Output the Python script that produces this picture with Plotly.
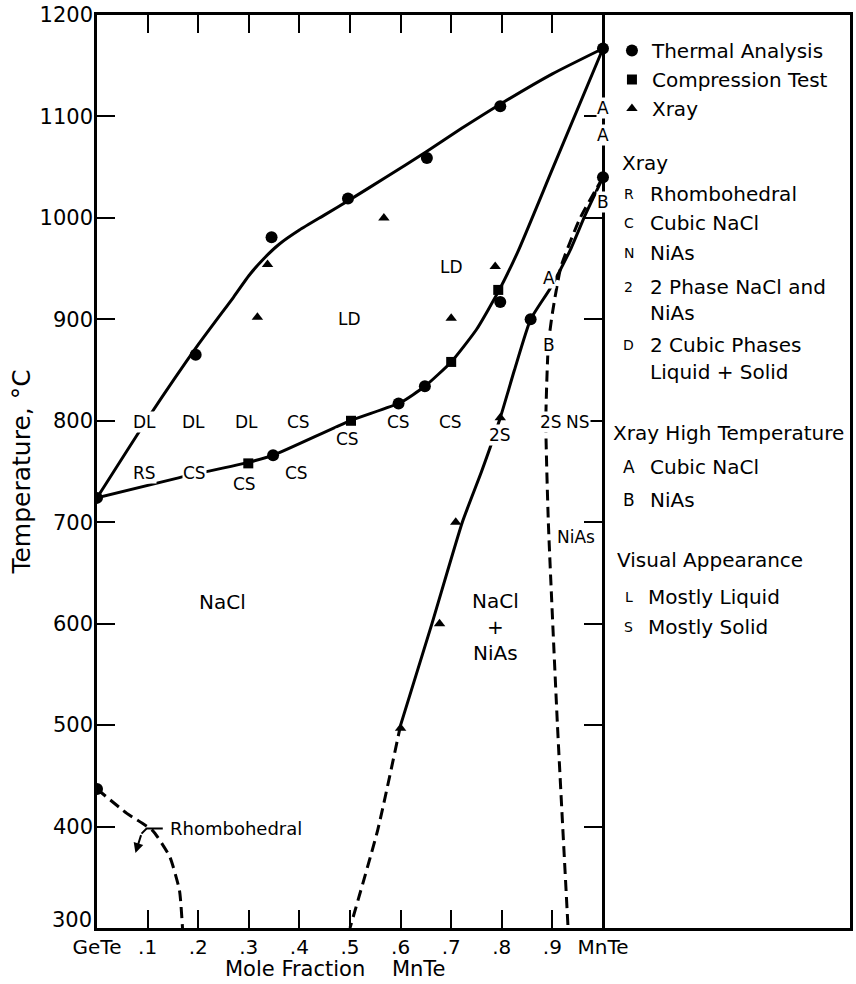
import plotly.graph_objects as go

# ---- measured points: mole fraction MnTe vs temperature (°C) ----
thermal_x = [0.0, 0.195, 0.345, 0.496, 0.652, 0.797, 1.0, 0.0, 0.348, 0.596, 0.648, 0.797, 0.857, 1.0]
thermal_t = [724, 865, 981, 1019, 1059, 1110, 1167, 437, 766, 817, 834, 917, 900, 1040]

compress_x = [0.299, 0.502, 0.700, 0.793]
compress_t = [758, 800, 858, 929]

xray_x = [0.317, 0.337, 0.567, 0.700, 0.787, 0.797, 0.709, 0.677, 0.600]
xray_t = [902, 954, 1000, 901, 952, 803, 700, 600, 497]

# ---- phase boundaries ----
liquidus_x = [0.0, 0.1, 0.2, 0.27, 0.3, 0.33, 0.36, 0.4, 0.45, 0.5, 0.571, 0.65, 0.72, 0.8, 0.9, 1.0]
liquidus_t = [724, 802, 875, 922, 943, 960, 974, 988, 1003, 1018, 1040, 1065, 1088, 1113, 1142, 1167]

solidus_x = [0.0, 0.163, 0.299, 0.348, 0.5, 0.6, 0.648, 0.7, 0.75, 0.795, 0.833, 0.9, 1.0]
solidus_t = [724, 744, 759, 766, 800, 818, 834, 858, 890, 929, 968, 1048, 1167]

nacl_solvus_x = [1.0, 0.965, 0.935, 0.895, 0.857, 0.825, 0.797, 0.76, 0.722, 0.662, 0.6]
nacl_solvus_t = [1040, 1003, 968, 930, 900, 850, 803, 750, 700, 600, 500]

nacl_solvus_low_x = [0.6, 0.555, 0.5]
nacl_solvus_low_t = [500, 397, 300]

nias_solvus_x = [1.0, 0.955, 0.917, 0.90, 0.892, 0.887, 0.892, 0.91, 0.931]
nias_solvus_t = [1040, 1000, 952, 906, 875, 800, 700, 500, 300]

rhombo_x = [0.0, 0.059, 0.11, 0.144, 0.163, 0.169]
rhombo_t = [437, 413, 396, 370, 337, 300]

# ---- axis ticks ----
x_ticks = [0, 0.1, 0.2, 0.3, 0.4, 0.5, 0.6, 0.7, 0.8, 0.9, 1.0]
x_labels = ["GeTe", ".1", ".2", ".3", ".4", ".5", ".6", ".7", ".8", ".9", "MnTe"]
t_ticks = [300, 400, 500, 600, 700, 800, 900, 1000, 1100, 1200]
t_labels = ["", "400", "500", "600", "700", "800", "900", "1000", "1100", "1200"]
t_inner_ticks = [400, 500, 600, 700, 800, 900, 1000, 1100]

# ---- X-ray / visual observation codes written on the diagram ----
obs_codes = [
    ("DL", 0.093, 799), ("DL", 0.19, 799), ("DL", 0.295, 799), ("CS", 0.398, 799),
    ("RS", 0.094, 749), ("CS", 0.193, 749), ("CS", 0.291, 738), ("CS", 0.394, 749),
    ("CS", 0.496, 782), ("CS", 0.596, 799), ("CS", 0.699, 799),
    ("2S", 0.797, 786), ("2S", 0.898, 799), ("NS", 0.951, 799),
    ("LD", 0.5, 900), ("LD", 0.70, 952),
    ("A", 1.0, 1108), ("A", 1.0, 1082), ("B", 1.0, 1016),
    ("A", 0.894, 941), ("B", 0.894, 875),
]

region_labels = [
    ("NaCl", 0.248, 621, 20),
    ("NaCl<br>+<br>NiAs", 0.787, 597, 20),
    ("NiAs", 0.947, 685, 17),
]

X_MAX = 756 / 508  # extra room right of MnTe for the key

DASH = "11px,6px"
fig = go.Figure()


def boundary(xs, ts, dash=None, smooth=0.5):
    fig.add_trace(go.Scatter(
        x=xs, y=ts, mode="lines", showlegend=False, hoverinfo="skip",
        line=dict(color="black", width=3, dash=dash,
                  shape="spline" if smooth else "linear", smoothing=smooth or 1),
    ))


boundary(liquidus_x, liquidus_t)
boundary(solidus_x, solidus_t)
boundary(nacl_solvus_x, nacl_solvus_t)
boundary(nacl_solvus_low_x, nacl_solvus_low_t, dash=DASH)
boundary(nias_solvus_x, nias_solvus_t, dash=DASH)
boundary(rhombo_x, rhombo_t, dash=DASH)

fig.add_trace(go.Scatter(x=thermal_x, y=thermal_t, mode="markers", name="Thermal Analysis",
                         marker=dict(symbol="circle", size=12, color="black")))
fig.add_trace(go.Scatter(x=compress_x, y=compress_t, mode="markers", name="Compression Test",
                         marker=dict(symbol="square", size=10, color="black")))
fig.add_trace(go.Scatter(x=xray_x, y=xray_t, mode="markers", name="Xray",
                         marker=dict(symbol="triangle-up", size=10, color="black")))

# leader for the rhombohedral label
fig.add_trace(go.Scatter(x=[0.13, 0.098, 0.088], y=[398, 398, 393], mode="lines",
                         line=dict(color="black", width=2), showlegend=False, hoverinfo="skip"))

# MnTe composition line carries its own inward ticks
fig.add_trace(go.Scatter(x=[None], y=[None], yaxis="y2", showlegend=False, hoverinfo="skip"))

ann = []
for txt, x, t in obs_codes:
    ann.append(dict(x=x, y=t, xref="x", yref="y", text=txt, showarrow=False,
                    font=dict(size=17), bgcolor="white", borderpad=0))
for txt, x, t, sz in region_labels:
    ann.append(dict(x=x, y=t, xref="x", yref="y", text=txt, showarrow=False,
                    font=dict(size=sz)))
ann.append(dict(x=0.14, y=398, xref="x", yref="y", text="Rhombohedral", showarrow=False,
                xanchor="left", font=dict(size=18)))
ann.append(dict(x=0.076, y=374, ax=0.088, ay=393, xref="x", yref="y", axref="x", ayref="y",
                text="", showarrow=True, arrowhead=2, arrowsize=1, arrowwidth=2, arrowcolor="black"))

# bottom temperature label sits a little above the corner, clear of "GeTe"
ann.append(dict(x=0, y=300, xref="x", yref="y", text="300", showarrow=False,
                xanchor="right", yanchor="middle", xshift=-3, yshift=8, font=dict(size=21)))

# x-axis title, centred under the composition range
ann.append(dict(x=0.472, y=-(969 - 928) / 913, xref="x", yref="paper", yanchor="middle",
                text="Mole Fraction\u00a0\u00a0\u00a0 MnTe", showarrow=False, font=dict(size=21)))

# key text to the right of MnTe
key_rows = [
    (None, "Xray", 1.0335, 1054),
    ("R", "Rhombohedral", 1.0886, 1023.6),
    ("C", "Cubic NaCl", 1.0886, 994.9),
    ("N", "NiAs", 1.0886, 965.4),
    ("2", "2 Phase NaCl and", 1.0886, 931.9),
    (None, "NiAs", 1.0886, 906.2),
    ("D", "2 Cubic Phases", 1.0886, 874.7),
    (None, "Liquid + Solid", 1.0886, 848.1),
    (None, "Xray High Temperature", 1.0157, 788.0),
    ("A", "Cubic NaCl", 1.0886, 754.4),
    ("B", "NiAs", 1.0886, 721.9),
    (None, "Visual Appearance", 1.0236, 662.8),
    ("L", "Mostly Liquid", 1.0846, 626.3),
    ("S", "Mostly Solid", 1.0846, 596.7),
]
for code, txt, x, t in key_rows:
    ann.append(dict(x=x, y=t, xref="x", yref="y", text=txt, showarrow=False,
                    xanchor="left", font=dict(size=20)))
    if code:
        big = code in ("A", "B")
        ann.append(dict(x=1.051, y=t, xref="x", yref="y", text=code, showarrow=False,
                        font=dict(size=17 if big else 14)))

fig.update_layout(
    width=856, height=984,
    margin=dict(l=97, r=3, t=15, b=56),
    paper_bgcolor="white", plot_bgcolor="white",
    font=dict(family="DejaVu Sans", size=20, color="black"),
    showlegend=True,
    legend=dict(x=(614 - 97) / 756, y=1 - (31 - 15) / 913, xanchor="left", yanchor="top",
                bgcolor="rgba(0,0,0,0)", font=dict(size=20), itemwidth=30),
    annotations=ann,
    xaxis=dict(range=[0, X_MAX], tickvals=x_ticks, ticktext=x_labels,
               ticks="inside", ticklen=18, tickwidth=2, tickcolor="black",
               tickfont=dict(size=20), ticklabelstandoff=-1,
               showline=True, linewidth=2.5, linecolor="black", mirror="ticks",
               showgrid=False, zeroline=False),
    yaxis=dict(range=[300, 1200], tickvals=t_ticks, ticktext=t_labels,
               ticks="inside", ticklen=18, tickwidth=2, tickcolor="black",
               tickfont=dict(size=21), ticklabelstandoff=-3,
               showline=True, linewidth=2.5, linecolor="black", mirror=True,
               showgrid=False, zeroline=False,
               title=dict(text="Temperature, °C", font=dict(size=25), standoff=2)),
    yaxis2=dict(range=[300, 1200], overlaying="y", anchor="free", position=1 / X_MAX,
                side="right", tickvals=t_inner_ticks, ticks="inside", ticklen=18,
                tickwidth=2, tickcolor="black", showticklabels=False,
                showline=True, linewidth=2.5, linecolor="black",
                showgrid=False, zeroline=False),
)

fig.write_html("out.html")
